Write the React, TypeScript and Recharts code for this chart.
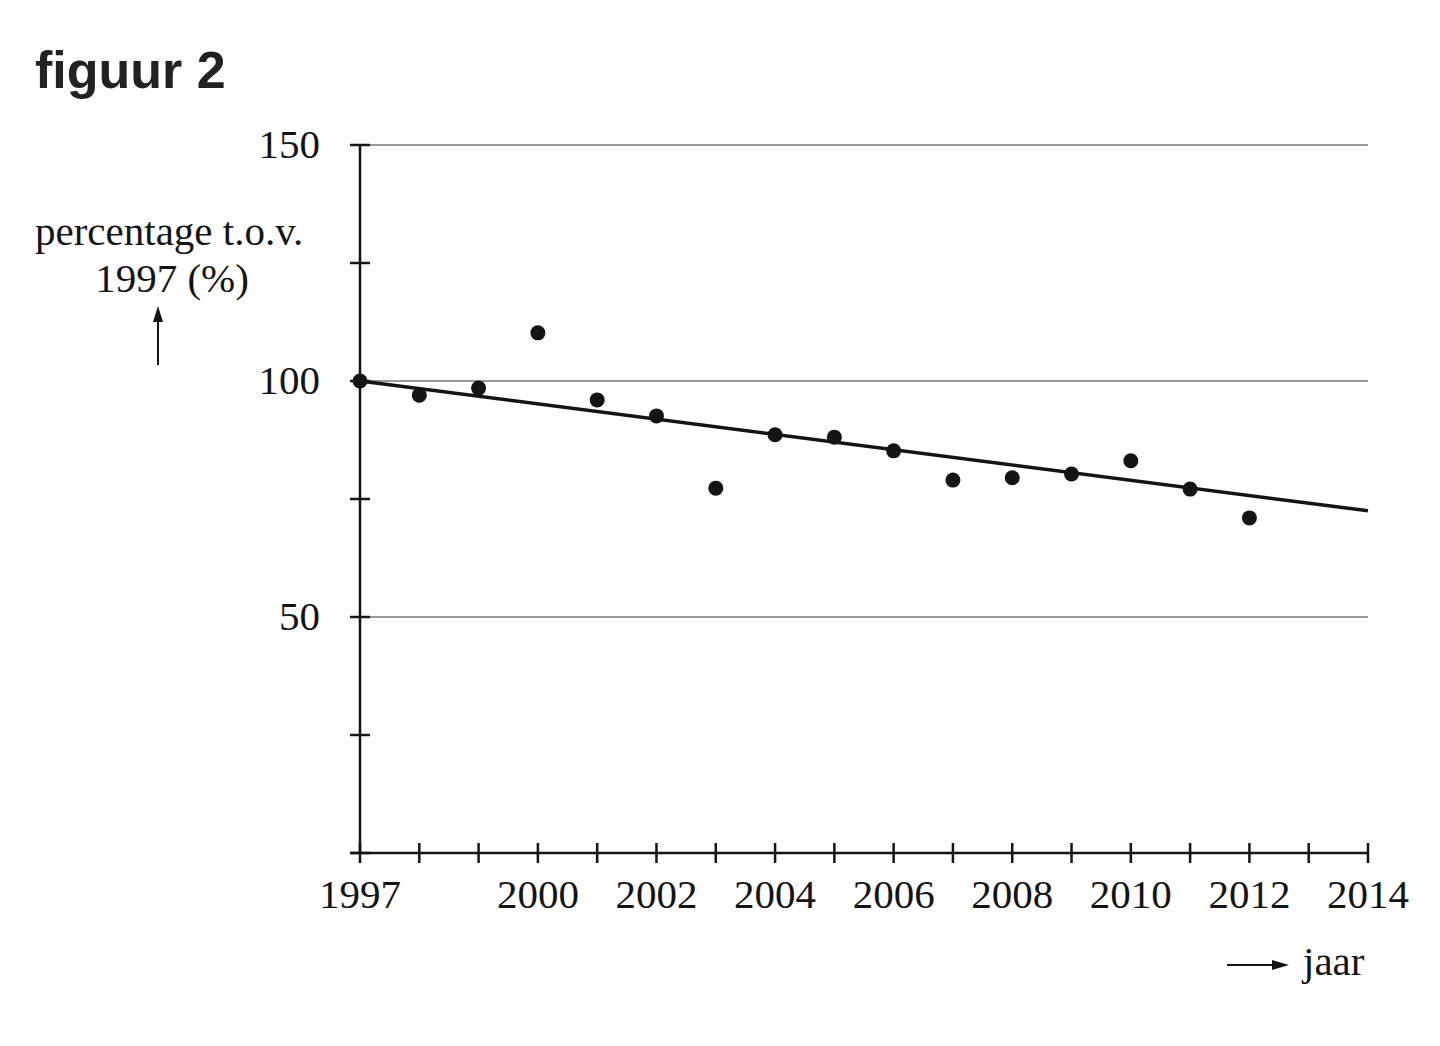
import { ComposedChart, Scatter, XAxis, YAxis, ReferenceLine } from "recharts";

// measured points (percentage relative to 1997)
const years = [1997, 1998, 1999, 2000, 2001, 2002, 2003, 2004, 2005, 2006, 2007, 2008, 2009, 2010, 2011, 2012];
const values = [100, 97.0, 98.5, 110.2, 96.0, 92.6, 77.3, 88.6, 88.1, 85.2, 79.0, 79.5, 80.3, 83.1, 77.1, 71.0];

// trend line endpoints
const trendYears = [1997, 2014];
const trendValues = [100, 72.5];

const xTicks = [1997, 1998, 1999, 2000, 2001, 2002, 2003, 2004, 2005, 2006, 2007, 2008, 2009, 2010, 2011, 2012, 2013, 2014];
const xLabelled = [1997, 2000, 2002, 2004, 2006, 2008, 2010, 2012, 2014];
const yTicks = [0, 25, 50, 75, 100, 125, 150];
const yLabelled = [50, 100, 150];
const gridLines = [50, 100, 150];

const points = years.map((x, i) => ({ x, y: values[i] }));
const trend = trendYears.map((x, i) => ({ x, y: trendValues[i] }));

const SERIF = "'Liberation Serif', 'Times New Roman', serif";
const INK = "#141414";

const XTick = (props: any) => {
  const { x, y, payload } = props;
  return (
    <g>
      <line x1={x} x2={x} y1={y - 10} y2={y + 10} stroke={INK} strokeWidth={2.5} />
      {xLabelled.includes(payload.value) && (
        <text x={x} y={y + 55} textAnchor="middle" fontFamily={SERIF} fontSize={41} fill={INK}>
          {payload.value}
        </text>
      )}
    </g>
  );
};

const YTick = (props: any) => {
  const { x, y, payload } = props;
  return (
    <g>
      <line x1={x - 10} x2={x + 10} y1={y} y2={y} stroke={INK} strokeWidth={2.5} />
      {yLabelled.includes(payload.value) && (
        <text x={x - 40} y={y + 13} textAnchor="end" fontFamily={SERIF} fontSize={41} fill={INK}>
          {payload.value}
        </text>
      )}
    </g>
  );
};

const Dot = (props: any) => <circle cx={props.cx} cy={props.cy} r={7.5} fill={INK} />;
const NoDot = () => <g />;

export default function App() {
  return (
    <div style={{ position: "absolute", left: 0, top: 0, width: 1440, height: 1046, background: "#fff" }}>
      <ComposedChart
        width={1440}
        height={1046}
        margin={{ top: 145, right: 72, bottom: 133, left: 280 }}
        style={{ position: "absolute", left: 0, top: 0 }}
      >
        <XAxis
          type="number"
          dataKey="x"
          domain={[1997, 2014]}
          ticks={xTicks}
          interval={0}
          height={60}
          tickSize={0}
          tickMargin={0}
          tickLine={false}
          axisLine={{ stroke: INK, strokeWidth: 2.5 }}
          tick={<XTick />}
        />
        <YAxis
          type="number"
          dataKey="y"
          domain={[0, 150]}
          ticks={yTicks}
          interval={0}
          width={80}
          tickSize={0}
          tickMargin={0}
          tickLine={false}
          axisLine={{ stroke: INK, strokeWidth: 2.5 }}
          tick={<YTick />}
        />
        {gridLines.map((v) => (
          <ReferenceLine key={v} y={v} stroke="#777" strokeWidth={1.5} />
        ))}
        <Scatter
          data={trend}
          line={{ stroke: INK, strokeWidth: 3.5 }}
          shape={<NoDot />}
          isAnimationActive={false}
        />
        <Scatter data={points} shape={<Dot />} isAnimationActive={false} />
      </ComposedChart>
      <svg
        width={1440}
        height={1046}
        style={{ position: "absolute", left: 0, top: 0, pointerEvents: "none" }}
      >
        <line x1={351} x2={361} y1={853} y2={853} stroke={INK} strokeWidth={2.5} />
        <text x={35} y={88} fontFamily="'Liberation Sans', Arial, sans-serif" fontWeight="bold" fontSize={52} fill="#222">
          figuur 2
        </text>
        <text x={35} y={245} fontFamily={SERIF} fontSize={41} fill={INK}>
          percentage t.o.v.
        </text>
        <text x={172} y={292} textAnchor="middle" fontFamily={SERIF} fontSize={41} fill={INK}>
          1997 (%)
        </text>
        <line x1={158} x2={158} y1={365} y2={318} stroke={INK} strokeWidth={2} />
        <polygon points="158,306 153,322 163,322" fill={INK} />
        <line x1={1227} x2={1275} y1={965} y2={965} stroke={INK} strokeWidth={2} />
        <polygon points="1289,965 1272,960 1272,970" fill={INK} />
        <text x={1303} y={975} fontFamily={SERIF} fontSize={41} fill={INK}>
          jaar
        </text>
      </svg>
    </div>
  );
}
